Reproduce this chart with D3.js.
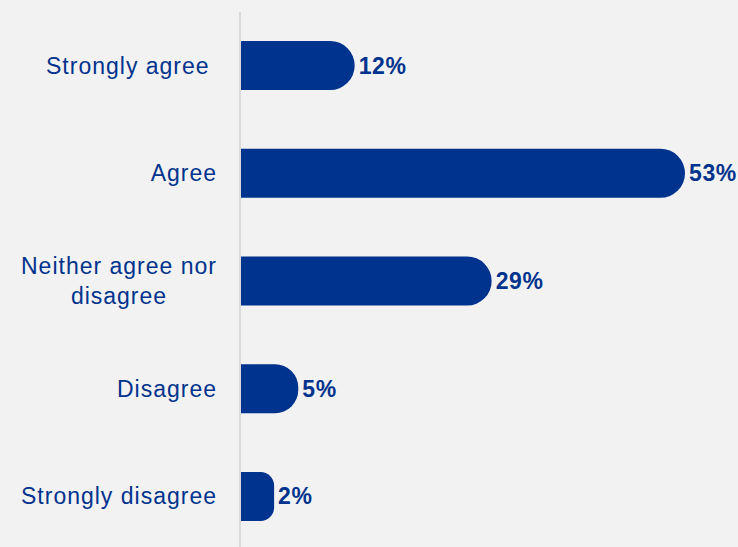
<!DOCTYPE html>
<html>
<head>
<meta charset="utf-8">
<script src="https://cdn.jsdelivr.net/npm/d3@7"></script>
<style>
  body { margin: 0; background: #f2f2f2; }
  svg { display: block; }
</style>
</head>
<body>
<div id="chart"></div>
<script>
// data
var categories = ["Strongly agree\u00a0", "Agree", "Neither agree nor|disagree", "Disagree", "Strongly disagree"];
var values = [12, 53, 29, 5, 2];
var valueLabels = ["12%", "53%", "29%", "5%", "2%"];

var svgWidth = 738;
var svgHeight = 547;
var axisX = 240;
var labelRight = 217;
var blue = "#00338d";

var svg = d3.select("#chart")
    .append("svg")
    .attr("width", svgWidth)
    .attr("height", svgHeight);

svg.append("rect")
    .attr("width", svgWidth)
    .attr("height", svgHeight)
    .attr("fill", "#f2f2f2");

// scales
var yScale = d3.scaleBand()
    .domain(categories)
    .range([41, 521])
    .paddingInner(0.545)
    .paddingOuter(0);

var xScale = d3.scaleLinear()
    .domain([0, 53])
    .range([18, 445]);

var chartGroup = svg.append("g")
    .attr("transform", `translate(${axisX}, 0)`);

// bars with rounded right end
function barPath(w, h) {
    var r = Math.min(h / 2, w * 0.4);
    return `M0,0 H${w - r} A${r},${r} 0 0 1 ${w},${r} V${h - r} A${r},${r} 0 0 1 ${w - r},${h} H0 Z`;
}

chartGroup.selectAll(".bar")
    .data(values)
    .enter()
    .append("path")
    .attr("class", "bar")
    .attr("transform", (d, i) => `translate(0, ${yScale(categories[i])})`)
    .attr("d", d => barPath(xScale(d), yScale.bandwidth()))
    .attr("fill", blue);

// vertical axis line
svg.append("line")
    .attr("x1", axisX)
    .attr("x2", axisX)
    .attr("y1", 12)
    .attr("y2", svgHeight)
    .attr("stroke", "#d9d9d9")
    .attr("stroke-width", 2);

// category labels (multi-line ones are centred under the widest line)
svg.selectAll(".cat")
    .data(categories)
    .enter()
    .append("text")
    .attr("class", "cat")
    .attr("font-family", "Liberation Sans, Arial, sans-serif")
    .attr("font-size", "23px")
    .attr("letter-spacing", "1px")
    .attr("fill", blue)
    .each(function(d) {
        var lines = d.split("|");
        var center = yScale(d) + yScale.bandwidth() / 2;
        var lineH = 30;
        var first = center + 8 - (lines.length - 1) * lineH / 2;
        var t = d3.select(this);
        if (lines.length === 1) {
            t.attr("text-anchor", "end")
                .attr("x", labelRight)
                .attr("y", first)
                .text(lines[0]);
            return;
        }
        t.attr("text-anchor", "middle");
        var spans = lines.map((line, j) => t.append("tspan")
            .attr("y", first + j * lineH)
            .text(line));
        var maxW = d3.max(spans, s => s.node().getComputedTextLength());
        spans.forEach(s => s.attr("x", labelRight - maxW / 2));
    });

// value labels
chartGroup.selectAll(".val")
    .data(values)
    .enter()
    .append("text")
    .attr("class", "val")
    .attr("x", d => xScale(d) + 4)
    .attr("y", (d, i) => yScale(categories[i]) + yScale.bandwidth() / 2 + 8)
    .attr("font-family", "Liberation Sans, Arial, sans-serif")
    .attr("font-size", "23px")
    .attr("font-weight", "bold")
    .attr("letter-spacing", "0.6px")
    .attr("fill", blue)
    .text((d, i) => valueLabels[i]);
</script>
</body>
</html>
